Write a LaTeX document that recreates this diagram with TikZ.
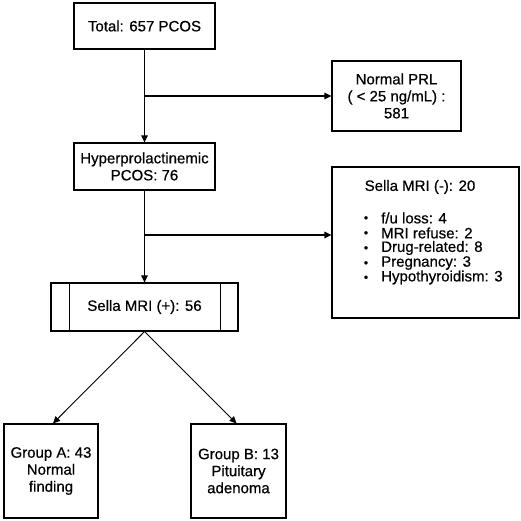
\documentclass[tikz,border=0pt]{standalone}
\usepackage{fontspec}
\setmainfont{Liberation Sans}[FakeBold=0.6]
\usetikzlibrary{arrows.meta,shapes.multipart}
\begin{document}
\begin{tikzpicture}[x=1pt,y=-1pt,
  every node/.style={font=\fontsize{15}{17}\selectfont, inner sep=0pt},
  box/.style={draw, line width=1.2pt, align=center},
  conn/.style={line width=1.2pt, -{Triangle[length=7pt,width=6.5pt]}},
  thin conn/.style={line width=0.9pt, -{Triangle[length=7pt,width=6.5pt]}},
  item/.style={anchor=west},
  bul/.style={anchor=center, font=\fontsize{12}{12}\selectfont}]
\useasboundingbox (0,0) rectangle (521,521);
% boxes
\node[box, minimum width=141pt, minimum height=46pt] (total) at (144.5,26) {Total: 657 PCOS};
\node[box, minimum width=141pt, minimum height=47pt] (hyper) at (144.5,166.5) {Hyperprolactinemic\\PCOS: 76};
\node[box, minimum width=129pt, minimum height=70pt] (normal) at (396.5,96) {Normal PRL\\( < 25 ng/mL) :\\581};
\node[draw, line width=1.2pt, minimum width=187pt, minimum height=151pt] (neg) at (425.5,242.5) {};
\node (negtitle) at (420,187) {Sella MRI (-): 20};
\node[bul] (b1) at (366,219) {•};
\node[bul] (b2) at (366,234) {•};
\node[bul] (b3) at (366,249) {•};
\node[bul] (b4) at (366,264) {•};
\node[bul] (b5) at (366,278.5) {•};
\node[item] (i1) at (381,218) {f/u loss: 4};
\node[item] (i2) at (381,233) {MRI refuse: 2};
\node[item] (i3) at (381,248) {Drug-related: 8};
\node[item] (i4) at (381,263) {Pregnancy: 3};
\node[item] (i5) at (381,277.5) {Hypothyroidism: 3};
\node[box, minimum width=187pt, minimum height=48pt] (pos) at (144.5,307) {Sella MRI (+): 56};
\draw[line width=1.2pt] ([xshift=19pt]pos.north west) -- ([xshift=19pt]pos.south west);
\draw[line width=1.2pt] ([xshift=-18pt]pos.north east) -- ([xshift=-18pt]pos.south east);
\node[box, minimum width=94pt, minimum height=94pt] (ga) at (51,471) {Group A: 43\\Normal\\finding};
\node[box, minimum width=95pt, minimum height=94pt] (gb) at (238.5,471) {Group B: 13\\Pituitary\\adenoma};
% connectors
\draw[conn] (total) -- (hyper);
\coordinate (j1) at (total.south |- 0,96);
\draw[conn] (j1) -- (j1 -| normal.west);
\draw[conn] (hyper) -- (pos);
\coordinate (j2) at (hyper.south |- 0,235);
\draw[conn] (j2) -- (j2 -| neg.west);
\draw[thin conn] (pos.south) -- ([xshift=2pt]ga.north);
\draw[thin conn] (pos.south) -- ([xshift=-2pt]gb.north);
\end{tikzpicture}
\end{document}
